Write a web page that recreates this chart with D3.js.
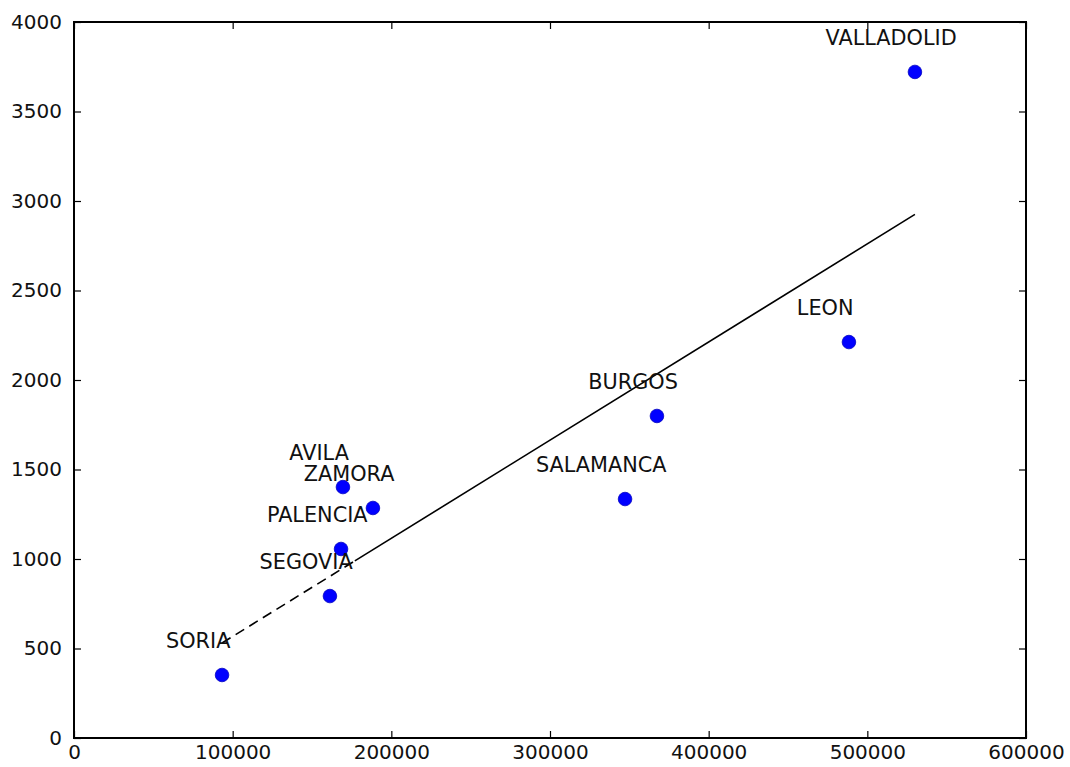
<!DOCTYPE html>
<html>
<head>
<meta charset="utf-8">
<script src="https://cdn.jsdelivr.net/npm/d3@7"></script>
<style>
  html, body { margin: 0; padding: 0; background: #fff; }
  text { font-family: "DejaVu Sans", sans-serif; }
</style>
</head>
<body>
<svg id="chart" width="1070" height="767"></svg>
<script>
const provinces = ["SORIA", "SEGOVIA", "PALENCIA", "AVILA", "ZAMORA", "SALAMANCA", "BURGOS", "LEON", "VALLADOLID"];
const xValues = [93300, 161300, 168300, 169500, 188400, 347300, 367400, 488400, 530000];
const yValues = [352, 793, 1056, 1402, 1285, 1335, 1799, 2212, 3721];
const xTicks = [0, 100000, 200000, 300000, 400000, 500000, 600000];
const yTicks = [0, 500, 1000, 1500, 2000, 2500, 3000, 3500, 4000];
const dashedUntil = 177000;

(function () {
const svg = d3.select("#chart");
const mLeft = 74, mRight = 1026, mTop = 22, mBottom = 738;
const x = d3.scaleLinear().domain([0, 600000]).range([mLeft, mRight]);
const y = d3.scaleLinear().domain([0, 4000]).range([mBottom, mTop]);

// least-squares fit from data
const n = xValues.length;
const mx = d3.mean(xValues), my = d3.mean(yValues);
let sxy = 0, sxx = 0;
for (let i = 0; i < n; i++) { sxy += (xValues[i]-mx)*(yValues[i]-my); sxx += (xValues[i]-mx)**2; }
const slope = sxy / sxx, intercept = my - slope * mx;
const fit = v => intercept + slope * v;
const x0 = d3.min(xValues), x1 = d3.max(xValues);

const g = svg.append("g");

g.append("line")
  .attr("x1", x(x0)).attr("y1", y(fit(x0)))
  .attr("x2", x(dashedUntil)).attr("y2", y(fit(dashedUntil)))
  .attr("stroke", "#000").attr("stroke-width", 1.6)
  .attr("stroke-dasharray", "10,6");
g.append("line")
  .attr("x1", x(dashedUntil)).attr("y1", y(fit(dashedUntil)))
  .attr("x2", x(x1)).attr("y2", y(fit(x1)))
  .attr("stroke", "#000").attr("stroke-width", 1.6);

g.selectAll("circle.pt").data(d3.range(n)).enter().append("circle")
  .attr("class", "pt")
  .attr("cx", i => x(xValues[i])).attr("cy", i => y(yValues[i]))
  .attr("r", 6.8)
  .attr("fill", "#0000ff").attr("stroke", "#0000c0").attr("stroke-width", 0.8);

g.selectAll("text.lab").data(d3.range(n)).enter().append("text")
  .attr("class", "lab")
  .attr("x", i => x(xValues[i] - 15000)).attr("y", i => y(yValues[i] + 150))
  .attr("text-anchor", "middle")
  .attr("font-size", 20.8).attr("fill", "#111")
  .text(i => provinces[i]);

const tickLen = 7;
const xAxisB = d3.axisBottom(x).tickValues(xTicks).tickFormat(d3.format("d")).tickSizeInner(-tickLen).tickSizeOuter(0).tickPadding(7);
const xAxisT = d3.axisTop(x).tickValues(xTicks).tickFormat("").tickSizeInner(-tickLen).tickSizeOuter(0);
const yAxisL = d3.axisLeft(y).tickValues(yTicks).tickFormat(d3.format("d")).tickSizeInner(-tickLen).tickSizeOuter(0).tickPadding(12);
const yAxisR = d3.axisRight(y).tickValues(yTicks).tickFormat("").tickSizeInner(-tickLen).tickSizeOuter(0);

function style(sel) {
  sel.select(".domain").remove();
  sel.selectAll(".tick line").attr("stroke", "#000").attr("stroke-width", 1.2);
  sel.selectAll(".tick text").attr("font-size", 20).attr("fill", "#111").attr("font-family", "DejaVu Sans, sans-serif");
}
svg.append("g").attr("transform", `translate(0,${mBottom})`).call(xAxisB).call(style);
svg.append("g").attr("transform", `translate(0,${mTop})`).call(xAxisT).call(style);
svg.append("g").attr("transform", `translate(${mLeft},0)`).call(yAxisL).call(style);
svg.append("g").attr("transform", `translate(${mRight},0)`).call(yAxisR).call(style);

svg.append("rect").attr("x", mLeft).attr("y", mTop).attr("width", mRight-mLeft).attr("height", mBottom-mTop)
  .attr("fill", "none").attr("stroke", "#000").attr("stroke-width", 2);
})();
</script>
</body>
</html>
